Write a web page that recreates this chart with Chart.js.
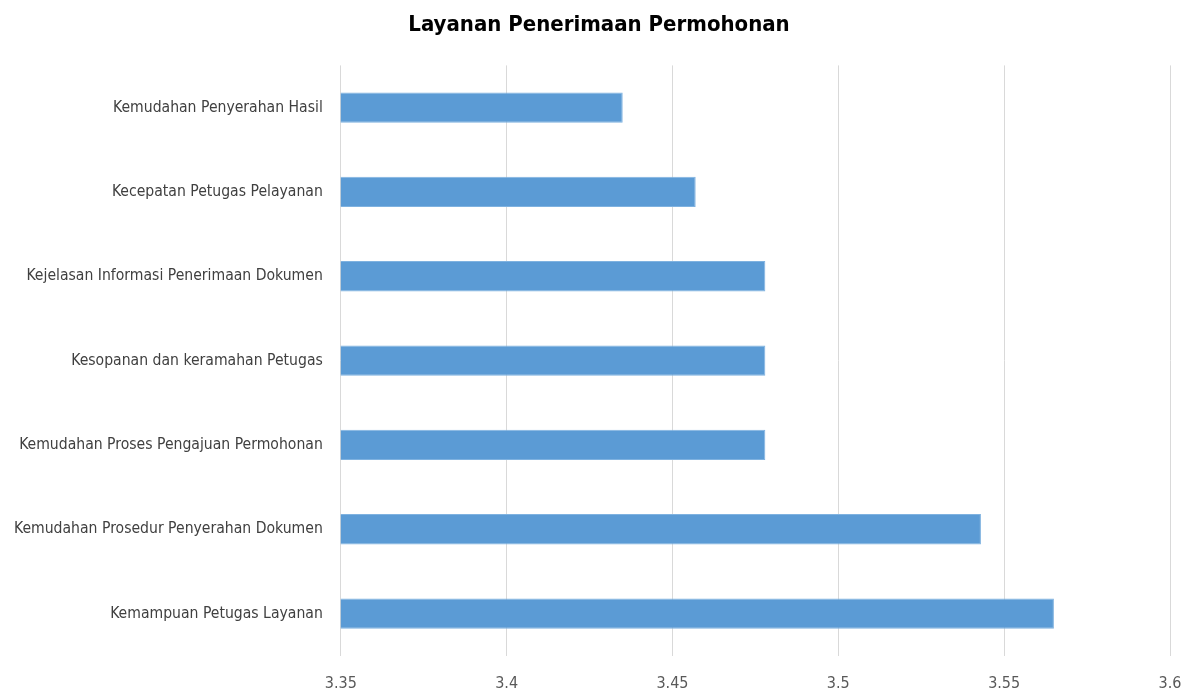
<!DOCTYPE html>
<html>
<head>
<meta charset="utf-8">
<script src="https://cdn.jsdelivr.net/npm/chart.js@4"></script>
<style>
  html, body { margin: 0; padding: 0; background: #fff; }
  #wrap { width: 1190px; height: 691px; }
</style>
</head>
<body>
<div id="wrap"><canvas id="layananChart"></canvas></div>
<script>
// Categories (top to bottom) and mean scores
const categories = [
    "Kemudahan Penyerahan Hasil",
    "Kecepatan Petugas Pelayanan",
    "Kejelasan Informasi Penerimaan Dokumen",
    "Kesopanan dan keramahan Petugas",
    "Kemudahan Proses Pengajuan Permohonan",
    "Kemudahan Prosedur Penyerahan Dokumen",
    "Kemampuan Petugas Layanan"
];
const scores = [3.435, 3.457, 3.478, 3.478, 3.478, 3.543, 3.565];
const xMin = 3.35;
const xMax = 3.6;
const xStep = 0.05;

const fontFamily = "'Liberation Sans Narrow', 'DejaVu Sans Condensed', 'Open Sans', sans-serif";

const ctx = document.getElementById("layananChart").getContext("2d");

const layananChart = new Chart(ctx, {
    type: "bar",
    data: {
        labels: categories,
        datasets: [{
            label: "Skor",
            data: scores,
            backgroundColor: "#5B9BD5",
            borderColor: "#7FB2E0",
            borderWidth: 1,
            barPercentage: 0.72,
            categoryPercentage: 0.5
        }]
    },
    options: {
        indexAxis: "y",
        responsive: true,
        maintainAspectRatio: false,
        animation: false,
        layout: {
            padding: { left: -4, right: -12, top: 0, bottom: -20 }
        },
        scales: {
            x: {
                min: xMin,
                max: xMax,
                border: { display: false },
                grid: {
                    color: "#D9D9D9",
                    lineWidth: 1,
                    drawTicks: false
                },
                ticks: {
                    stepSize: xStep,
                    padding: 18,
                    color: "#595959",
                    font: { family: fontFamily, size: 16 },
                    callback: (v) => Number(v.toFixed(2)).toString()
                },
                // tick padding also pads the right edge; keep it to the gap in the original
                afterFit: (scale) => { scale.paddingRight = 20; }
            },
            y: {
                border: { display: false },
                grid: { display: false, drawTicks: false },
                ticks: {
                    padding: 18,
                    color: "#404040",
                    font: { family: fontFamily, size: 15.6 }
                }
            }
        },
        plugins: {
            legend: { display: false },
            tooltip: { enabled: false },
            title: {
                display: true,
                text: "Layanan Penerimaan Permohonan",
                color: "#000000",
                font: { family: fontFamily, size: 22, weight: "bold" },
                padding: { top: 12, bottom: 27 }
            }
        }
    }
});
</script>
</body>
</html>
